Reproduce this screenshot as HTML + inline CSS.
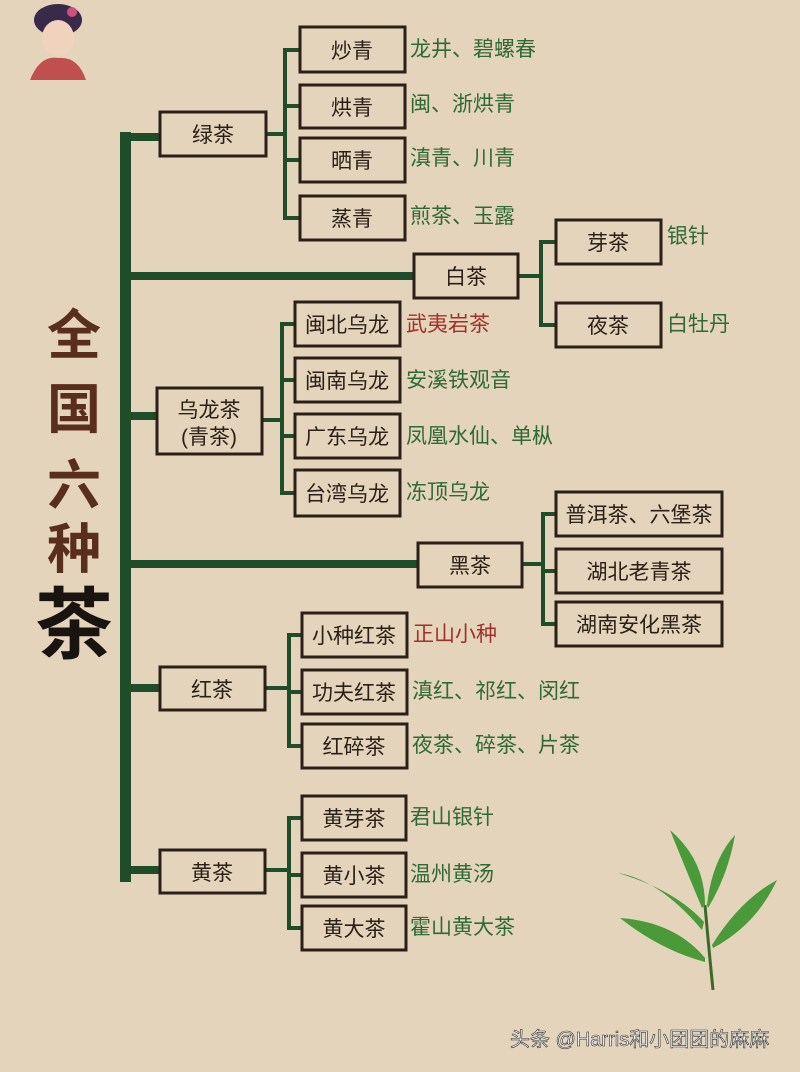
<!DOCTYPE html>
<html><head><meta charset="utf-8"><style>
html,body{margin:0;padding:0;}
body{width:800px;height:1067px;overflow:hidden;background:#e4d4bb;font-family:"Liberation Sans","Noto Sans CJK SC",sans-serif;}
svg text{font-family:"Liberation Sans","Noto Sans CJK SC",sans-serif;}
</style></head><body>
<svg width="800" height="1067" viewBox="0 0 800 1067" xmlns="http://www.w3.org/2000/svg">
<rect width="800" height="1067" fill="#e4d4bb"/>
<g>
<ellipse cx="58" cy="20" rx="24" ry="16" fill="#3a2a4a"/>
<ellipse cx="58" cy="38" rx="16" ry="18" fill="#f1d3bd"/>
<path d="M30 80 Q40 55 58 58 Q78 56 86 80 Z" fill="#c05050"/>
<circle cx="72" cy="12" r="5" fill="#d05080"/>
</g>
<g fill="#1f4d2a">
<rect x="120" y="132" width="11" height="750"/>
<rect x="120" y="133" width="40" height="8"/>
<rect x="120" y="272" width="294" height="8"/>
<rect x="120" y="412" width="37" height="8"/>
<rect x="120" y="560" width="298" height="8"/>
<rect x="120" y="684" width="40" height="8"/>
<rect x="120" y="866" width="40" height="8"/>
</g>
<g stroke="#1f4d2a" stroke-width="4" fill="none">
<path d="M266 134H285M300 50H285V218H300M285 106H300M285 160H300"/>
<path d="M518 276H541M556 242H541V325H556"/>
<path d="M262 420H282M295 324H282V493H295M282 380H295M282 436H295"/>
<path d="M522 564H543M556 514H543V624H556M543 571H556"/>
<path d="M265 688H289M302 635H289V746H302M289 692H302"/>
<path d="M265 870H289M302 818H289V928H302M289 875H302"/>
</g>
<g fill="none" stroke="#2a2018" stroke-width="3">
<rect x="160" y="112" width="106" height="44"/>
<rect x="300" y="27" width="105" height="45"/>
<rect x="300" y="85" width="105" height="43"/>
<rect x="300" y="138" width="105" height="44"/>
<rect x="300" y="196" width="105" height="44"/>
<rect x="414" y="254" width="104" height="44"/>
<rect x="556" y="220" width="105" height="44"/>
<rect x="556" y="303" width="105" height="44"/>
<rect x="157" y="388" width="105" height="66"/>
<rect x="295" y="302" width="105" height="44"/>
<rect x="295" y="358" width="105" height="44"/>
<rect x="295" y="414" width="105" height="44"/>
<rect x="295" y="470" width="105" height="46"/>
<rect x="418" y="543" width="104" height="44"/>
<rect x="556" y="492" width="166" height="44"/>
<rect x="556" y="549" width="166" height="44"/>
<rect x="556" y="602" width="166" height="44"/>
<rect x="160" y="667" width="105" height="43"/>
<rect x="302" y="613" width="105" height="44"/>
<rect x="302" y="670" width="105" height="44"/>
<rect x="302" y="724" width="105" height="44"/>
<rect x="160" y="850" width="105" height="43"/>
<rect x="302" y="796" width="104" height="44"/>
<rect x="302" y="853" width="104" height="44"/>
<rect x="302" y="906" width="104" height="44"/>
</g>
<g fill="#2a2018" font-size="21" text-anchor="middle">
<text x="213" y="142">绿茶</text>
<text x="352" y="58">炒青</text>
<text x="352" y="115">烘青</text>
<text x="352" y="168">晒青</text>
<text x="352" y="226">蒸青</text>
<text x="466" y="284">白茶</text>
<text x="608" y="250">芽茶</text>
<text x="608" y="333">夜茶</text>
<text x="209" y="417">乌龙茶</text>
<text x="209" y="444">(青茶)</text>
<text x="347" y="332">闽北乌龙</text>
<text x="347" y="388">闽南乌龙</text>
<text x="347" y="444">广东乌龙</text>
<text x="347" y="501">台湾乌龙</text>
<text x="470" y="573">黑茶</text>
<text x="639" y="522">普洱茶、六堡茶</text>
<text x="639" y="579">湖北老青茶</text>
<text x="639" y="632">湖南安化黑茶</text>
<text x="212" y="697">红茶</text>
<text x="354" y="643">小种红茶</text>
<text x="354" y="700">功夫红茶</text>
<text x="354" y="754">红碎茶</text>
<text x="212" y="880">黄茶</text>
<text x="354" y="826">黄芽茶</text>
<text x="354" y="883">黄小茶</text>
<text x="354" y="936">黄大茶</text>
</g>
<g fill="#2f6a35" font-size="21">
<text x="410" y="56">龙井、碧螺春</text>
<text x="410" y="111">闽、浙烘青</text>
<text x="410" y="165">滇青、川青</text>
<text x="410" y="223">煎茶、玉露</text>
<text x="667" y="243">银针</text>
<text x="667" y="331">白牡丹</text>
<text x="406" y="387">安溪铁观音</text>
<text x="406" y="443">凤凰水仙、单枞</text>
<text x="406" y="499">冻顶乌龙</text>
<text x="412" y="698">滇红、祁红、闵红</text>
<text x="412" y="752">夜茶、碎茶、片茶</text>
<text x="410" y="824">君山银针</text>
<text x="410" y="881">温州黄汤</text>
<text x="410" y="934">霍山黄大茶</text>
</g>
<g fill="#a0302a" font-size="21">
<text x="406" y="331">武夷岩茶</text>
<text x="413" y="641">正山小种</text>
</g>
<g fill="#5a2e1c" font-size="54" font-weight="bold" text-anchor="middle">
<text x="74" y="354">全</text>
<text x="74" y="428">国</text>
<text x="74" y="504">六</text>
<text x="74" y="568">种</text>
</g>
<text x="74" y="652" fill="#1a1410" font-size="78" font-weight="bold" text-anchor="middle">茶</text>
<g fill="#4a9a3a">
<path d="M713 990 Q708 940 705 905" stroke="#3a6a2a" stroke-width="3" fill="none"/>
<path d="M705 962 Q660 950 620 918 Q675 922 705 958Z"/>
<path d="M702 930 Q660 880 618 873 Q675 890 704 922Z"/>
<path d="M702 908 Q682 860 670 830 Q705 860 705 905Z"/>
<path d="M707 905 Q712 860 735 835 Q728 875 708 908Z"/>
<path d="M712 945 Q740 900 777 880 Q756 925 713 948Z"/>
</g>
<text x="510" y="1046" fill="#f4f4f4" stroke="#333" stroke-width="0.6" font-size="20">头条 @Harris和小团团的麻麻</text>
</svg>
</body></html>
